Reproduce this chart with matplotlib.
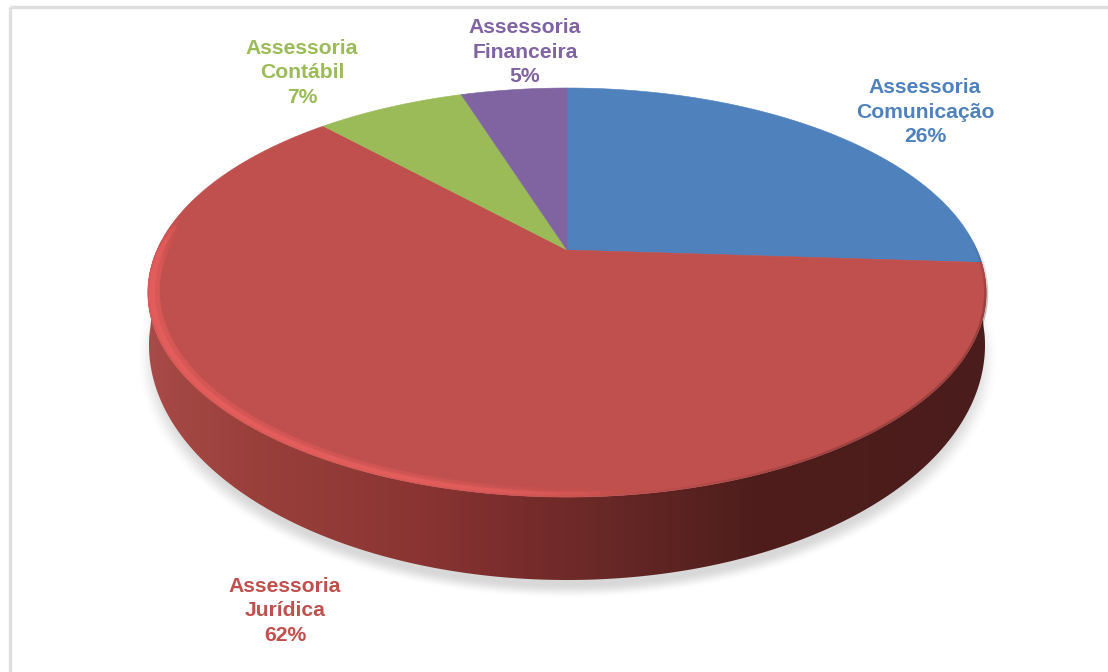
import numpy as np
import matplotlib
matplotlib.use("Agg")
import matplotlib.pyplot as plt
from matplotlib.collections import LineCollection
from matplotlib.colors import LinearSegmentedColormap, to_rgb
from matplotlib.patches import Polygon

categories = ["Assessoria\nComunicação", "Assessoria\nJurídica", "Assessoria\nContábil", "Assessoria\nFinanceira"]
values = [26, 62, 7, 5]
colors = ["#4f81bd", "#c0504d", "#9bbb59", "#8064a2"]
label_xy = [(925, 112), (285, 611), (302, 73), (525, 52)]

W, H = 1108, 672
CX, CY = 567, 250      # projected pie centre
A, B, K = 410.0, 195.7, 0.208   # perspective of the top disc
WALL_CY, WALL_RX, WALL_RY = 345, 418, 235

plt.rcParams["font.family"] = ["Liberation Sans", "DejaVu Sans"]
fig = plt.figure(figsize=(W / 100, H / 100), dpi=100)
ax = fig.add_axes([0, 0, 1, 1])
ax.set_xlim(0, W)
ax.set_ylim(H, 0)
ax.axis("off")


def top_point(theta, scale=1.0):
    """Clockwise angle from 12 o'clock on the disc -> picture position."""
    u, v = scale * np.sin(theta), scale * np.cos(theta)
    w = 1 + K * v
    return CX + A * u / w, CY - B * v / w


# picture frame
ax.plot([9.5, 9.5], [H, 6.5], color="#dedede", lw=2.4, solid_capstyle="butt", zorder=1)
ax.plot([9.5, W], [6.5, 6.5], color="#dedede", lw=2.4, solid_capstyle="butt", zorder=1)

# soft shadow beneath the pie
yy, xx = np.mgrid[0:H, 0:W]
r = np.sqrt(((xx - 567) / 431.0) ** 2 + ((yy - 358) / 240.0) ** 2)
alpha = np.clip((1.0 - r) / 0.06, 0, 1)
alpha = alpha * alpha * (3 - 2 * alpha)
shadow = np.zeros((H, W, 4))
shadow[..., :3] = 0.85
shadow[..., 3] = alpha
ax.imshow(shadow, extent=(0, W, H, 0), aspect="auto", zorder=2, interpolation="bilinear")

# wall: silhouette between the two ellipses, shaded left to right
t = np.linspace(0, 2 * np.pi, 721)
tx, ty = top_point(t)
wall_x = CX + WALL_RX * np.sin(t)
wall_y = WALL_CY - WALL_RY * np.cos(t)
wall_cmap = LinearSegmentedColormap.from_list(
    "wall",
    [(0.0, "#a84a47"), (0.12, "#9a403b"), (0.32, "#8a3533"), (0.42, "#7c2d2d"),
     (0.55, "#672826"), (0.72, "#4f1e1c"), (1.0, "#4a1c1b")],
)
front = (t >= np.pi / 2 - 0.05) & (t <= 3 * np.pi / 2 + 0.05)
outline = np.r_[np.c_[wall_x[front], wall_y[front]], np.c_[tx[front][::-1], ty[front][::-1]]]
clip = Polygon(outline, closed=True, transform=ax.transData, facecolor="none", edgecolor="none")
ax.add_patch(clip)
grad = ax.imshow(np.linspace(0, 1, 840)[None, :], extent=(148, 988, H, 0), aspect="auto",
                 cmap=wall_cmap, zorder=3)
grad.set_clip_path(clip)
ax.set_xlim(0, W)
ax.set_ylim(H, 0)

# top disc slices, from the values
frac = np.cumsum([0] + values) / sum(values)
for i, colour in enumerate(colors):
    th = np.linspace(frac[i], frac[i + 1], 240) * 2 * np.pi
    px, py = top_point(th)
    ax.fill(np.r_[CX, px], np.r_[CY, py], facecolor=colour, edgecolor=colour, lw=0.4, zorder=4)

disc = Polygon(np.c_[tx, ty], closed=True, transform=ax.transData, facecolor="none", edgecolor="none")
ax.add_patch(disc)

# bevel highlight on the lower left rim, dark soft edge on the lower right
red = np.array(to_rgb("#e45f5e"))
dark = np.array(to_rgb("#4a1c1b"))
th = np.linspace(np.radians(170), np.radians(280), 500)
for inset, width, strength in [(0.004, 6, 0.16), (0.010, 4.5, 0.30), (0.012, 2.5, 0.45), (0.020, 5, 0.14)]:
    x, y = top_point(th, 1 - inset)
    pts = np.c_[x, y]
    segs = np.stack([pts[:-1], pts[1:]], axis=1)
    mid = np.degrees(th[:-1])
    a = strength * np.clip((mid - 172) / 25, 0, 1) * np.clip((280 - mid) / 18, 0, 1)
    rgba = np.c_[np.tile(red, (len(a), 1)), a]
    lc = LineCollection(segs, colors=rgba, linewidths=width, capstyle="round", zorder=5)
    ax.add_collection(lc)
    lc.set_clip_path(disc)

th = np.linspace(np.radians(88), np.radians(175), 300)
x, y = top_point(th)
pts = np.c_[x, y]
segs = np.stack([pts[:-1], pts[1:]], axis=1)
mid = np.degrees(th[:-1])
a = 0.30 * np.clip((mid - 88) / 15, 0, 1) * np.clip((175 - mid) / 30, 0, 1)
lc = LineCollection(segs, colors=np.c_[np.tile(dark, (len(a), 1)), a], linewidths=3, zorder=5)
ax.add_collection(lc)

# labels
for name, value, colour, (lx, ly) in zip(categories, values, colors, label_xy):
    ax.text(lx, ly, f"{name}\n{value}%", color=colour, fontsize=15.2, fontweight="bold",
            ha="center", va="center", linespacing=1.37, zorder=6)

fig.savefig("out.png", dpi=100)
